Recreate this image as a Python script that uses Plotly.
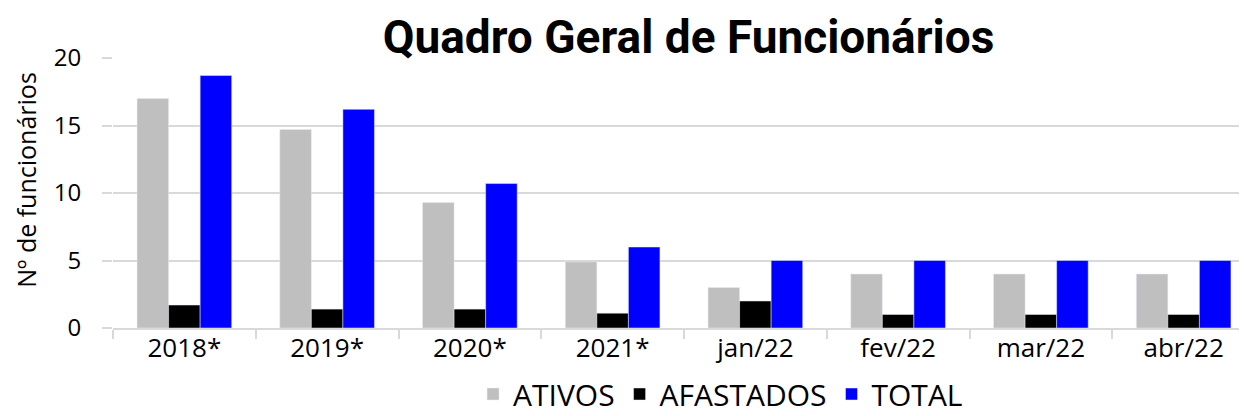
import plotly.graph_objects as go

categories = ["2018*", "2019*", "2020*", "2021*", "jan/22", "fev/22", "mar/22", "abr/22"]
ativos = [17.0, 14.7, 9.3, 4.9, 3, 4, 4, 4]
afastados = [1.7, 1.4, 1.4, 1.1, 2, 1, 1, 1]
total = [18.7, 16.2, 10.7, 6.0, 5, 5, 5, 5]
y_title = "Nº de funcionários"
chart_title = "Quadro Geral de Funcionários"

fig = go.Figure()
fig.add_bar(x=categories, y=ativos, name="ATIVOS", marker_color="#BFBFBF")
fig.add_bar(x=categories, y=afastados, name="AFASTADOS", marker_color="#000000")
fig.add_bar(x=categories, y=total, name="TOTAL", marker_color="#0000FF")

W, H = 1247, 416
font_family = "Open Sans, Liberation Sans, sans-serif"
fig.update_layout(
    width=W, height=H,
    margin=dict(l=105, r=0, t=50, b=95.5, autoexpand=False),
    paper_bgcolor="white", plot_bgcolor="white",
    barmode="group", bargap=0.337, bargroupgap=0,
    title=dict(text="<b>" + chart_title + "</b>", x=680.5 / W, xanchor="center",
               xref="container", yref="container", y=1 - 29 / H, yanchor="middle",
               font=dict(family="Roboto, Open Sans, sans-serif", size=46, color="black")),
    font=dict(family=font_family, color="black"),
    legend=dict(orientation="h", xref="container", yref="container", x=0.5714, xanchor="center",
                y=4 / H, yanchor="bottom", font=dict(size=30), itemwidth=30,
                traceorder="normal", bgcolor="rgba(0,0,0,0)"),
    showlegend=True,
    annotations=[dict(text=y_title, textangle=-90, xref="paper", yref="paper",
                      x=-87 / 1142, y=(320.5 - 172) / 270.5, xanchor="center", yanchor="middle",
                      showarrow=False, font=dict(size=25, family=font_family, color="black"))],
)
fig.update_xaxes(range=[-0.5, 7.5], tickson="boundaries", ticks="outside", ticklen=9,
                 tickcolor="#D9D9D9", tickwidth=1.5, showline=True, linecolor="#D9D9D9",
                 linewidth=1.5, showgrid=False, tickfont=dict(size=26), automargin=False,
                 ticklabelstandoff=-4)
fig.update_yaxes(range=[0, 20], dtick=5, ticks="outside", ticklen=10, tickcolor="#D9D9D9",
                 tickwidth=1.5, showgrid=True, gridcolor="#D9D9D9", gridwidth=1.5,
                 zeroline=False, showline=False, tickfont=dict(size=24), automargin=False,
                 ticklabelstandoff=16)

fig.write_html("out.html")
